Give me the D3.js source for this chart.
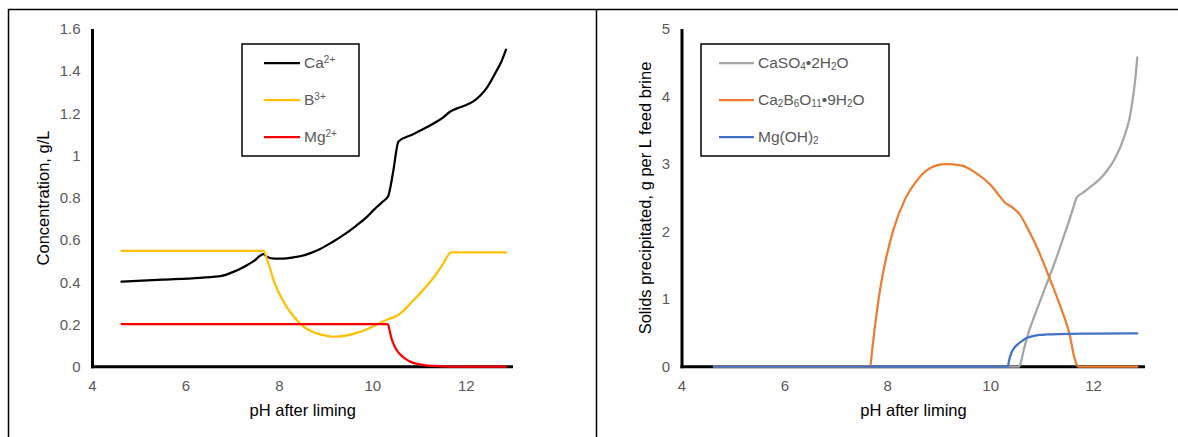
<!DOCTYPE html>
<html>
<head>
<meta charset="utf-8">
<script src="https://cdn.jsdelivr.net/npm/d3@7"></script>
<style>
  html, body { margin: 0; padding: 0; background: #fff; }
  svg { display: block; font-family: "Liberation Sans", Arial, sans-serif; }
</style>
</head>
<body>
<svg id="chart" width="1178" height="437"></svg>
<script>
// ---------- data ----------
const xTicks = [4, 6, 8, 10, 12];
const leftYTicks = [0, 0.2, 0.4, 0.6, 0.8, 1, 1.2, 1.4, 1.6];
const rightYTicks = [0, 1, 2, 3, 4, 5];

// Left panel: concentration (g/L) vs pH
const caData = [[4.62,0.403],[5.5,0.412],[6.3,0.421],[6.76,0.43],[7.0,0.448],[7.25,0.474],[7.45,0.5],[7.66,0.533],
  [7.74,0.52],[7.9,0.512],[8.07,0.512],[8.3,0.518],[8.56,0.53],[8.85,0.555],[9.13,0.59],[9.4,0.628],[9.62,0.664],
  [9.85,0.705],[10.02,0.743],[10.2,0.78],[10.33,0.809],[10.43,0.917],[10.55,1.067],[10.84,1.099],[11.25,1.146],
  [11.5,1.18],[11.66,1.209],[11.82,1.225],[12.0,1.24],[12.15,1.257],[12.3,1.285],[12.45,1.325],[12.64,1.399],
  [12.75,1.445],[12.85,1.502]];
const bData = [[4.62,0.549],[7.66,0.549],[7.74,0.506],[7.9,0.395],[8.15,0.285],[8.3,0.24],[8.47,0.198],[8.65,0.172],
  [8.8,0.158],[9.0,0.147],[9.17,0.142],[9.4,0.146],[9.62,0.158],[9.85,0.175],[10.02,0.193],[10.2,0.212],[10.31,0.224],
  [10.51,0.24],[10.7,0.275],[10.84,0.308],[11.0,0.345],[11.17,0.387],[11.35,0.437],[11.49,0.482],[11.68,0.542],
  [12.85,0.542]];
const mgData = [[4.62,0.202],[10.3,0.202],[10.33,0.198],[10.36,0.17],[10.39,0.142],[10.43,0.115],[10.47,0.095],
  [10.53,0.073],[10.6,0.055],[10.7,0.037],[10.8,0.024],[10.95,0.013],[11.09,0.008],[11.3,0.004],[11.49,0.002],
  [12.0,0.0005],[12.85,0]];

// Right panel: solids precipitated (g per L feed brine) vs pH
const gypsumData = [[4.62,0],[10.55,0],[10.58,0.05],[10.65,0.27],[10.73,0.49],[10.87,0.79],[11.02,1.09],
  [11.17,1.39],[11.31,1.68],[11.43,1.95],[11.53,2.17],[11.6,2.34],[11.67,2.5],[11.74,2.55],[11.82,2.59],
  [11.95,2.67],[12.11,2.77],[12.25,2.89],[12.4,3.06],[12.52,3.25],[12.62,3.46],[12.7,3.68],[12.76,3.95],
  [12.81,4.25],[12.85,4.58]];
const borateData = [[4.62,0],[7.66,0],[7.69,0.2],[7.75,0.59],[7.85,1.14],[7.96,1.58],[8.11,2.03],[8.33,2.47],
  [8.55,2.74],[8.76,2.91],[8.95,2.98],[9.13,3.0],[9.42,2.98],[9.71,2.87],[10.0,2.69],[10.2,2.5],[10.29,2.42],
  [10.36,2.39],[10.45,2.34],[10.55,2.27],[10.73,2.03],[10.95,1.68],[11.16,1.28],[11.38,0.84],[11.53,0.49],
  [11.64,0.1],[11.69,0.01],[11.72,0],[12.85,0]];
const brucData = [[4.62,0],[10.33,0],[10.36,0.1],[10.4,0.2],[10.45,0.27],[10.51,0.32],[10.6,0.375],[10.69,0.42],
  [10.8,0.45],[10.95,0.47],[11.1,0.478],[11.31,0.484],[12.0,0.49],[12.85,0.494]];

const leftSeries = [
  { name: [["Ca",""],["2+","sup"]], data: caData, color: "#000000" },
  { name: [["B",""],["3+","sup"]], data: bData, color: "#FFC000" },
  { name: [["Mg",""],["2+","sup"]], data: mgData, color: "#FF0000" }
];
const rightSeries = [
  { name: [["CaSO",""],["4","sub"],["•2H",""],["2","sub"],["O",""]], data: gypsumData, color: "#A5A5A5" },
  { name: [["Ca",""],["2","sub"],["B",""],["6","sub"],["O",""],["11","sub"],["•9H",""],["2","sub"],["O",""]], data: borateData, color: "#ED7D31" },
  { name: [["Mg(OH)",""],["2","sub"]], data: brucData, color: "#4472C4" }
];

// ---------- drawing ----------
const svg = d3.select("#chart");

// outer frame
svg.append("path")
  .attr("d", "M8.5,437 V9.5 H1178 M596.5,9.5 V437")
  .attr("fill", "none").attr("stroke", "#000").attr("stroke-width", 1.5);

function drawPanel(p) {
  const x = d3.scaleLinear().domain([4, 13]).range([p.x0, p.x1]);
  const y = d3.scaleLinear().domain([0, p.yMax]).range([p.yBottom, p.yTop]);
  const g = svg.append("g");

  // tick labels
  g.selectAll(".xt").data(xTicks).join("text")
    .attr("x", d => x(d)).attr("y", 391)
    .attr("text-anchor", "middle").attr("font-size", 15).attr("fill", "#595959")
    .text(d => d);
  g.selectAll(".yt").data(p.yTicks).join("text")
    .attr("x", p.x0 - 12).attr("y", d => y(d)).attr("dy", "0.35em")
    .attr("text-anchor", "end").attr("font-size", 15).attr("fill", "#595959")
    .text(d => d3.format("")(d));

  // axes
  g.append("line").attr("x1", p.x0).attr("x2", p.x0).attr("y1", p.yTop).attr("y2", p.yBottom + 1.5)
    .attr("stroke", "#000").attr("stroke-width", 3);
  g.append("line").attr("x1", p.x0 - 1.5).attr("x2", p.x1).attr("y1", p.yBottom).attr("y2", p.yBottom)
    .attr("stroke", "#000").attr("stroke-width", 3);

  // series (drawn over the axes, as in the reference)
  const line = d3.line().x(d => x(d[0])).y(d => y(d[1])).curve(d3.curveMonotoneX);
  p.series.forEach(s => {
    g.append("path").datum(s.data).attr("d", line)
      .attr("fill", "none").attr("stroke", s.color).attr("stroke-width", 2.25)
      .attr("stroke-linejoin", "round").attr("stroke-linecap", "round");
  });

  // axis titles
  g.append("text").attr("x", (p.x0 + p.x1) / 2).attr("y", 416)
    .attr("text-anchor", "middle").attr("font-size", 16.5).attr("fill", "#000")
    .text("pH after liming");
  g.append("text").attr("transform", `translate(${p.yTitleX},198) rotate(-90)`)
    .attr("dy", "0.35em").attr("text-anchor", "middle").attr("font-size", 16.5).attr("fill", "#000")
    .text(p.yTitle);

  // legend
  const L = p.legend;
  g.append("rect").attr("x", L.x).attr("y", L.y).attr("width", L.w).attr("height", L.h)
    .attr("fill", "#fff").attr("stroke", "#000").attr("stroke-width", 1.5);
  p.series.forEach((s, i) => {
    const ly = L.y + 19 + i * 37;
    g.append("line").attr("x1", L.lx0).attr("x2", L.lx1).attr("y1", ly).attr("y2", ly)
      .attr("stroke", s.color).attr("stroke-width", 2.25);
    const t = g.append("text").attr("x", L.lx1 + 4).attr("y", ly).attr("dy", "0.35em")
      .attr("font-size", 15.5).attr("fill", "#595959");
    s.name.forEach(([txt, kind]) => {
      const ts = t.append("tspan").text(txt);
      if (kind === "sup") ts.attr("font-size", 10).attr("baseline-shift", "55%");
      if (kind === "sub") ts.attr("font-size", 10).attr("baseline-shift", "-20%");
    });
  });
}

drawPanel({
  x0: 92.5, x1: 513, yTop: 29, yBottom: 366.7, yMax: 1.6, yTicks: leftYTicks,
  series: leftSeries, yTitle: "Concentration, g/L", yTitleX: 43,
  legend: { x: 242, y: 44, w: 117, h: 112, lx0: 264, lx1: 300 }
});
drawPanel({
  x0: 682, x1: 1145, yTop: 29, yBottom: 366.7, yMax: 5, yTicks: rightYTicks,
  series: rightSeries, yTitle: "Solids precipitated, g per L feed brine", yTitleX: 645,
  legend: { x: 701, y: 44, w: 188, h: 112, lx0: 719, lx1: 754 }
});
</script>
</body>
</html>
